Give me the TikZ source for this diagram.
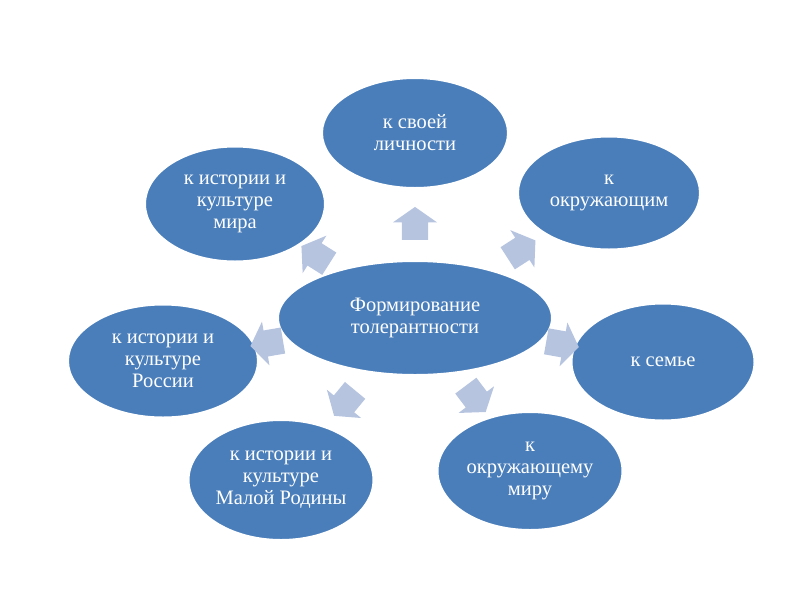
\documentclass[tikz,border=0pt]{standalone}
\usepackage{fontspec}
\setmainfont{Liberation Serif}
\usetikzlibrary{shapes.geometric,shapes.arrows}
\definecolor{bubblefill}{HTML}{4A7EBB}
\definecolor{arrowfill}{HTML}{B6C4E0}

\begin{document}
\begin{tikzpicture}[x=1pt,y=-1pt,
  bubble/.style={ellipse,fill=bubblefill,draw=white,line width=2pt,align=center,text=white,font=\rmfamily\fontsize{20.5}{22}\selectfont,inner sep=0pt},
  blockarrow/.style={single arrow,fill=arrowfill,draw=none,minimum height=33pt,minimum width=44pt,
    single arrow head extend=9pt,single arrow tip angle=110,inner xsep=0pt,inner ysep=13pt,sloped,allow upside down}]
\useasboundingbox (0,0) rectangle (800,600);
\node[bubble,minimum width=274pt,minimum height=114pt] (fc) at (415,318) {Формирование\\толерантности};
\node[bubble,minimum width=186pt,minimum height=110pt] (self) at (415,133) {к своей\\личности};
\node[bubble,minimum width=182pt,minimum height=113pt] (others) at (609,193) {к\\окружающим};
\node[bubble,minimum width=183pt,minimum height=117pt] (family) at (663,362) {к семье};
\node[bubble,minimum width=185pt,minimum height=118pt] (world) at (530,471) {к\\окружающему\\миру};
\node[bubble,minimum width=182pt,minimum height=120pt] (home) at (281,480) {к истории и\\культуре\\Малой Родины};
\node[bubble,minimum width=190pt,minimum height=113pt] (russia) at (163,361) {к истории и\\культуре\\России};
\node[bubble,minimum width=180pt,minimum height=115pt] (culture) at (235,204) {к истории и\\культуре\\мира};
% arrows out of the centre
\foreach \t/\p in {self/0.45,others/0.5,family/0.5,world/0.5,home/0.5,russia/0.5,culture/0.5}
  \path (fc) -- node[blockarrow,pos=\p] (a-\t) {} (\t);
\end{tikzpicture}
\end{document}
